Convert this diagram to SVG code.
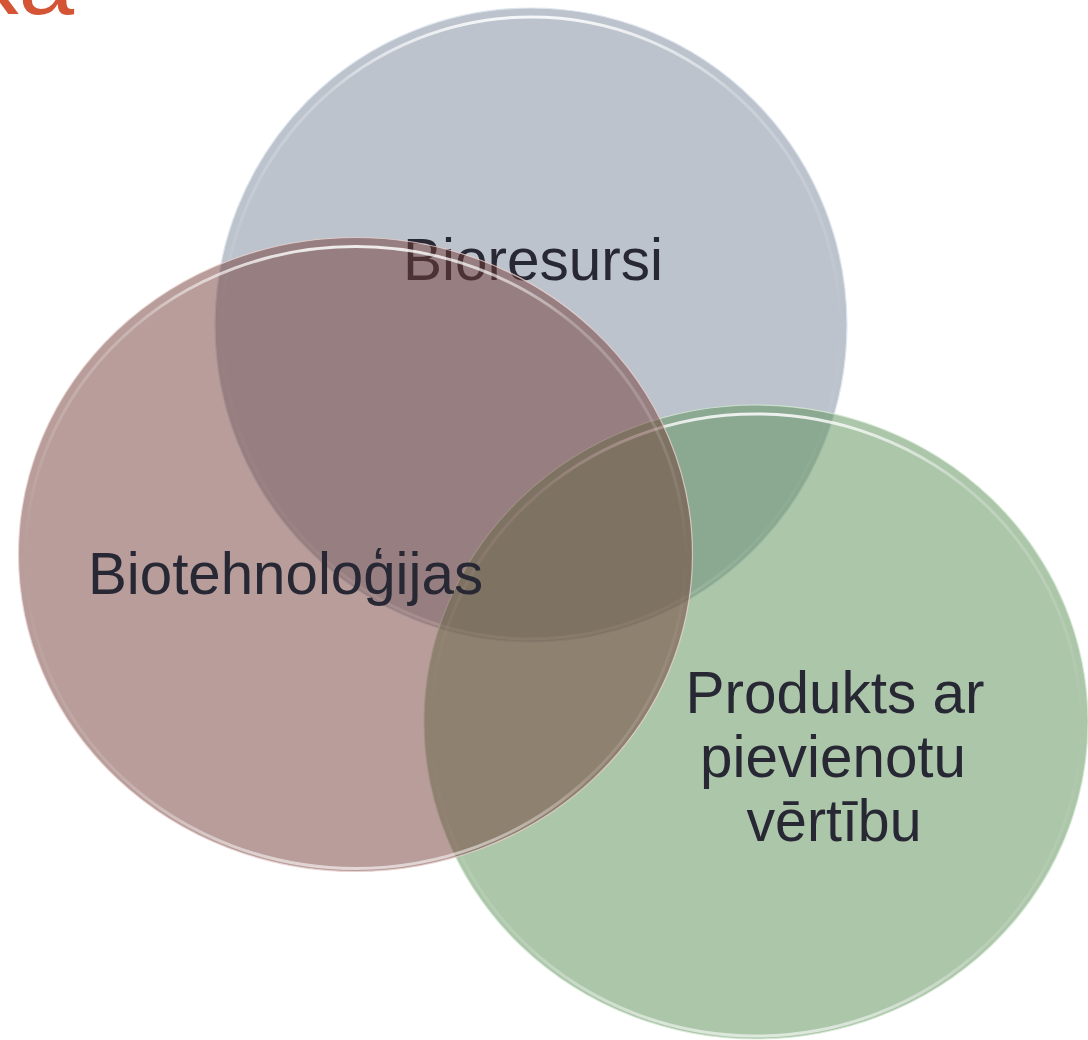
<svg xmlns="http://www.w3.org/2000/svg" width="1088" height="1040" viewBox="0 0 1088 1040">
  <defs>
    <linearGradient id="rimGrad" x1="0" y1="0" x2="0" y2="1">
      <stop offset="0" stop-color="#ffffff" stop-opacity="0.85"/>
      <stop offset="0.12" stop-color="#ffffff" stop-opacity="0.25"/>
      <stop offset="0.5" stop-color="#ffffff" stop-opacity="0"/>
      <stop offset="0.85" stop-color="#ffffff" stop-opacity="0.15"/>
      <stop offset="1" stop-color="#ffffff" stop-opacity="0.6"/>
    </linearGradient>
  </defs>
  <style>
    .lbl { font-family: "Liberation Sans", Arial, sans-serif; font-size: 60px; fill: #272834; text-anchor: middle; }
    .title { font-family: "Liberation Sans", Arial, sans-serif; font-size: 100px; fill: #d35535; text-anchor: end; }
    .rim { fill: none; stroke: url(#rimGrad); stroke-width: 3; }
    .edge { fill: none; stroke-width: 1.2; }
  </style>
  <rect width="1088" height="1040" fill="#ffffff"/>
  <text class="title" x="74" y="14">ka</text>

  <g id="node-bioresursi">
    <ellipse cx="531" cy="325" rx="316" ry="317" fill="#bcc3cd"/>
    <ellipse cx="531" cy="325" rx="316" ry="317" class="edge" stroke="#dfe6ee"/>
    <ellipse cx="531" cy="328" rx="309" ry="311" class="rim"/>
    <text class="lbl" x="533" y="280" textLength="260" lengthAdjust="spacingAndGlyphs">Bioresursi</text>
  </g>

  <g id="node-produkts">
    <ellipse cx="756" cy="722" rx="332" ry="317" fill="#598d55" fill-opacity="0.5"/>
    <ellipse cx="756" cy="722" rx="332" ry="317" class="edge" stroke="#d6ead4" stroke-opacity="0.8"/>
    <ellipse cx="756" cy="725" rx="325" ry="311" class="rim"/>
    <text class="lbl" x="835" y="713" textLength="299" lengthAdjust="spacingAndGlyphs">Produkts ar</text>
    <text class="lbl" x="833" y="777" textLength="266" lengthAdjust="spacingAndGlyphs">pievienotu</text>
    <text class="lbl" x="834" y="841" textLength="175" lengthAdjust="spacingAndGlyphs">vērtību</text>
  </g>

  <g id="node-biotehnologijas">
    <ellipse cx="355.5" cy="554.5" rx="337" ry="317" fill="#713b35" fill-opacity="0.5"/>
    <ellipse cx="355.5" cy="554.5" rx="337" ry="317" class="edge" stroke="#e8d2d0" stroke-opacity="0.8"/>
    <ellipse cx="355.5" cy="557.5" rx="330" ry="311" class="rim"/>
    <text class="lbl" x="285.5" y="594" textLength="395" lengthAdjust="spacingAndGlyphs">Biotehnoloģijas</text>
  </g>

  <g id="connectors"></g>
</svg>
